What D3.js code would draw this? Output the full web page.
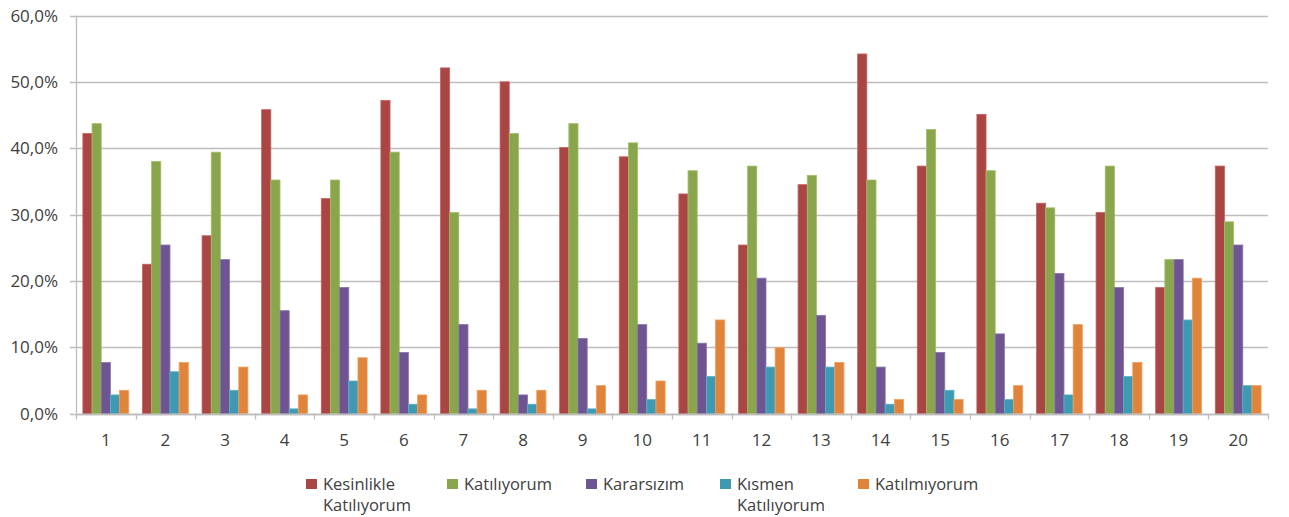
<!DOCTYPE html>
<html>
<head>
<meta charset="utf-8">
<script src="https://cdn.jsdelivr.net/npm/d3@7"></script>
<style>
  html, body { margin: 0; padding: 0; background: #fff; }
  svg { display: block; }
  text { font-family: "Open Sans", Lato, sans-serif; fill: #404040; }
</style>
</head>
<body>
<svg id="chart" width="1289" height="517"></svg>
<script>
const categories = ["1","2","3","4","5","6","7","8","9","10","11","12","13","14","15","16","17","18","19","20"];
const seriesNames = ["Kesinlikle Katılıyorum", "Katılıyorum", "Kararsızım", "Kısmen Katılıyorum", "Katılmıyorum"];
const kesinlikle = [42.2,22.5,26.8,45.8,32.4,47.2,52.1,50.0,40.1,38.7,33.1,25.4,34.5,54.2,37.3,45.1,31.7,30.3,19.0,37.3];
const katiliyorum = [43.7,38.0,39.4,35.2,35.2,39.4,30.3,42.2,43.7,40.8,36.6,37.3,35.9,35.2,42.8,36.6,31.0,37.3,23.2,28.9];
const kararsizim = [7.7,25.4,23.2,15.5,19.0,9.2,13.4,2.8,11.3,13.4,10.6,20.4,14.8,7.0,9.2,12.0,21.1,19.0,23.2,25.4];
const kismen = [2.8,6.3,3.5,0.7,4.9,1.4,0.7,1.4,0.7,2.1,5.6,7.0,7.0,1.4,3.5,2.1,2.8,5.6,14.1,4.2];
const katilmiyorum = [3.5,7.7,7.0,2.8,8.4,2.8,3.5,3.5,4.2,4.9,14.1,9.9,7.7,2.1,2.1,4.2,13.4,7.7,20.4,4.2];
const yTicks = [0,10,20,30,40,50,60];
const colors = ["#A94543", "#8AA64D", "#6E5592", "#3E9AB2", "#E0843B"];
const strokes = ["#C46361", "#A3BE68", "#8A74AB", "#5DB2C8", "#F19F5E"];

const seriesData = [kesinlikle, katiliyorum, kararsizim, kismen, katilmiyorum];

const svg = d3.select("#chart");
const pLeft = 76, pRight = 1268, pTop = 15.5, pBottom = 413.5;

const x0 = d3.scaleBand().domain(categories).range([pLeft, pRight]).paddingInner(0).paddingOuter(0);
const bw = x0.bandwidth();
const b = bw / 6.5;
const x1 = d3.scaleBand().domain(d3.range(seriesNames.length)).range([0.75 * b, 5.75 * b]).padding(0);
const y = d3.scaleLinear().domain([0, 60]).range([pBottom, pTop]);

// gridlines
svg.append("g").selectAll("line").data(yTicks).join("line")
  .attr("x1", pLeft - 6).attr("x2", pRight)
  .attr("y1", d => Math.round(y(d)) + 0.5).attr("y2", d => Math.round(y(d)) + 0.5)
  .attr("stroke", "#BDBDBD").attr("stroke-width", 1.3);

// left axis line
svg.append("line").attr("x1", pLeft + 0.5).attr("x2", pLeft + 0.5).attr("y1", pTop).attr("y2", pBottom)
  .attr("stroke", "#BDBDBD").attr("stroke-width", 1.3);

// y labels
svg.append("g").selectAll("text").data(yTicks).join("text")
  .attr("x", 58).attr("y", d => y(d)).attr("dy", "0.36em")
  .attr("text-anchor", "end").style("font-size", "17px")
  .text(d => d.toFixed(1).replace(".", ",") + "%");

// bars
const g = svg.append("g");
seriesData.forEach((vals, si) => {
  g.append("g").selectAll("rect").data(vals).join("rect")
    .attr("x", (d, i) => x0(categories[i]) + x1(si))
    .attr("y", d => y(d))
    .attr("width", x1.bandwidth())
    .attr("height", d => pBottom - y(d))
    .attr("fill", colors[si])
    .attr("stroke", strokes[si]).attr("stroke-width", 0.8);
});

// x axis
svg.append("line").attr("x1", pLeft).attr("x2", pRight).attr("y1", Math.round(pBottom) + 0.5).attr("y2", Math.round(pBottom) + 0.5)
  .attr("stroke", "#BDBDBD").attr("stroke-width", 1.3);
const boundaries = categories.map(c => x0(c)).concat([pRight]);
svg.append("g").selectAll("line").data(boundaries).join("line")
  .attr("x1", d => Math.round(d) + 0.5).attr("x2", d => Math.round(d) + 0.5)
  .attr("y1", pBottom).attr("y2", pBottom + 6)
  .attr("stroke", "#BDBDBD").attr("stroke-width", 1.3);
svg.append("g").selectAll("text").data(categories).join("text")
  .attr("x", d => x0(d) + bw / 2).attr("y", 446)
  .attr("text-anchor", "middle").style("font-size", "17px")
  .text(d => d);

// legend
const legendItems = [
  {lines: ["Kesinlikle", "Katılıyorum"], x: 306},
  {lines: ["Katılıyorum"], x: 447},
  {lines: ["Kararsızım"], x: 586},
  {lines: ["Kısmen", "Katılıyorum"], x: 720},
  {lines: ["Katılmıyorum"], x: 858}
];
const lg = svg.append("g");
legendItems.forEach((it, i) => {
  lg.append("rect").attr("x", it.x).attr("y", 479).attr("width", 11).attr("height", 10)
    .attr("fill", colors[i]);
  it.lines.forEach((t, li) => {
    lg.append("text").attr("x", it.x + 17).attr("y", 490 + li * 21)
      .style("font-size", "16.5px").text(t);
  });
});
</script>
</body>
</html>
